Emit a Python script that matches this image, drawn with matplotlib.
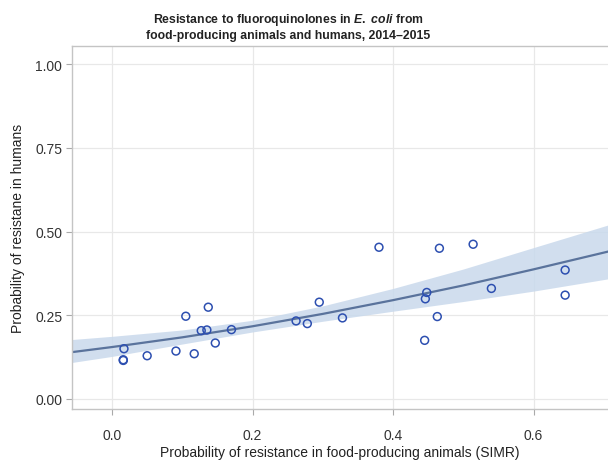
import numpy as np
import matplotlib
matplotlib.use("Agg")
import matplotlib.pyplot as plt

plt.rcParams['font.family'] = ['Liberation Sans', 'DejaVu Sans']
plt.rcParams['mathtext.fontset'] = 'custom'
plt.rcParams['mathtext.it'] = 'Liberation Sans:italic:bold'
plt.rcParams['mathtext.rm'] = 'Liberation Sans:bold'

# observed country points (animals SIMR, humans)
animals = [0.017, 0.016, 0.016, 0.050, 0.091, 0.105, 0.117, 0.127, 0.135, 0.137,
           0.147, 0.170, 0.262, 0.278, 0.295, 0.328, 0.380, 0.466, 0.514, 0.448,
           0.446, 0.463, 0.445, 0.540, 0.645, 0.645]
humans = [0.150, 0.115, 0.117, 0.129, 0.143, 0.247, 0.135, 0.204, 0.206, 0.274,
          0.167, 0.207, 0.233, 0.225, 0.289, 0.242, 0.453, 0.450, 0.462, 0.318,
          0.299, 0.246, 0.175, 0.330, 0.385, 0.310]

# fitted curve and confidence band
fit_x = [-0.06, 0.0, 0.1, 0.2, 0.3, 0.4, 0.5, 0.6, 0.71]
fit_y = [0.139, 0.155, 0.184, 0.217, 0.254, 0.295, 0.339, 0.387, 0.442]
band_lo = [0.108, 0.127, 0.164, 0.200, 0.232, 0.262, 0.291, 0.322, 0.360]
band_hi = [0.177, 0.187, 0.206, 0.235, 0.278, 0.330, 0.388, 0.452, 0.522]

fig = plt.figure(figsize=(6.08, 4.64), dpi=100)
ax = fig.add_axes([0.1184, 0.1164, 0.8816, 0.7823])

ax.fill_between(fit_x, band_lo, band_hi, color='#c9d9ec', alpha=0.85, lw=0, zorder=1)
ax.plot(fit_x, fit_y, color='#5a739c', lw=1.6, zorder=2)
ax.scatter(animals, humans, s=32, facecolors='none', edgecolors='#2d4fb0',
           linewidths=1.1, zorder=3)

ax.set_xlim(-0.057, 0.706)
ax.set_ylim(-0.03, 1.054)
ax.set_xticks([0.0, 0.2, 0.4, 0.6])
ax.set_xticklabels(['0.0', '0.2', '0.4', '0.6'])
ax.set_yticks([0.0, 0.25, 0.5, 0.75, 1.0])
ax.set_yticklabels(['0.00', '0.25', '0.50', '0.75', '1.00'])
ax.grid(True, color='#e8e8e8', lw=0.9)
ax.set_axisbelow(True)
for s in ['left', 'bottom', 'top']:
    ax.spines[s].set_color('#c4c4c4')
    ax.spines[s].set_linewidth(1.0)
ax.spines['right'].set_visible(False)
ax.tick_params(colors='#aaaaaa', labelcolor='#333333', labelsize=10, length=4, width=0.8)
ax.tick_params(axis='x', pad=9.5)
ax.tick_params(axis='y', pad=3)

ax.set_xlabel('Probability of resistance in food-producing animals (SIMR)',
              fontsize=10, color='#222222', labelpad=2)
ax.set_ylabel('Probability of resistane in humans', fontsize=10, color='#222222', labelpad=7)

fig.text(0.474, 0.957, r'Resistance to fluoroquinolones in $\it{E.}$ $\it{coli}$ from',
         ha='center', va='center', fontsize=8.8, fontweight='bold', color='#222222')
fig.text(0.474, 0.923, 'food-producing animals and humans, 2014\u20132015',
         ha='center', va='center', fontsize=8.8, fontweight='bold', color='#222222')

fig.savefig('out.png', dpi=100)
